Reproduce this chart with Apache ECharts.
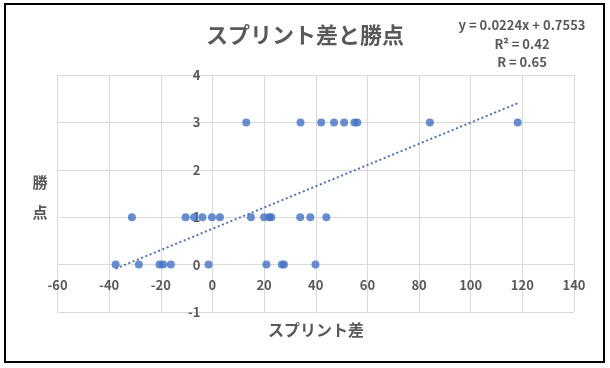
<!DOCTYPE html>
<html>
<head>
<meta charset="utf-8">
<script src="https://cdn.jsdelivr.net/npm/echarts@6/dist/echarts.min.js"></script>
<style>html,body{margin:0;padding:0;background:#fff;}#c{width:610px;height:368px;}</style>
</head>
<body>
<div id="c"></div>
<script>
// Data
var points3X = [13.1, 34.1, 42.1, 47.1, 51.0, 55.0, 56.1, 84.2, 118.2];
var points1X = [-31.2, -10.4, -7.1, -3.9, -0.2, 2.9, 14.9, 20.0, 22.0, 22.8, 34.0, 37.9, 44.1];
var points0X = [-37.5, -28.5, -20.5, -19.1, -16.1, -1.5, 20.9, 26.9, 27.7, 39.9];
var pointGroups = [3, 1, 0];
var trendSlope = 0.0224;
var trendIntercept = 0.7553;
var equationLines = ['y = 0.0224x + 0.7553', 'R² = 0.42', 'R = 0.65'];
var titleText = 'スプリント差と勝点';
var xAxisTitle = 'スプリント差';
var yAxisTitle = ['勝', '点'];

var X_MIN = -60, X_MAX = 140, Y_MIN = -1, Y_MAX = 4;

var groupsX = [points3X, points1X, points0X];
var scatterData = [];
groupsX.forEach(function (arr, i) {
  arr.forEach(function (x) { scatterData.push([x, pointGroups[i]]); });
});
var allX = scatterData.map(function (p) { return p[0]; });
var xMin = Math.min.apply(null, allX), xMax = Math.max.apply(null, allX);
var trendData = [[xMin, trendSlope * xMin + trendIntercept], [xMax, trendSlope * xMax + trendIntercept]];

var GRID = {left: 57.5, right: 36, top: 75, bottom: 56};
var W = 610, H = 368;
var gw = W - GRID.left - GRID.right, gh = H - GRID.top - GRID.bottom;
// put the axes through the origin (as in the reference)
var yAxisOffset = -gw * (0 - X_MIN) / (X_MAX - X_MIN);
var xAxisOffset = -gh * (0 - Y_MIN) / (Y_MAX - Y_MIN);

var FONT = '"Noto Sans CJK JP", "Noto Sans", sans-serif';
var GRAY = '#595959';
var chart = echarts.init(document.getElementById('c'), null, {renderer: 'canvas'});
chart.setOption({
  animation: false,
  backgroundColor: '#fff',
  title: {
    text: titleText, left: 'center', top: 19,
    textStyle: {fontFamily: FONT, fontSize: 22, fontWeight: 'bold', color: GRAY}
  },
  grid: {left: GRID.left, right: GRID.right, top: GRID.top, bottom: GRID.bottom, containLabel: false},
  xAxis: {
    type: 'value', min: X_MIN, max: X_MAX, interval: 20,
    position: 'bottom', offset: xAxisOffset,
    axisLine: {show: true, onZero: false, lineStyle: {color: '#d9d9d9'}},
    axisTick: {show: false},
    axisLabel: {margin: 14, fontFamily: FONT, fontSize: 13, fontWeight: 'bold', color: GRAY},
    splitLine: {show: true, lineStyle: {color: '#d9d9d9', width: 1}}
  },
  yAxis: {
    type: 'value', min: Y_MIN, max: Y_MAX, interval: 1,
    position: 'left', offset: yAxisOffset,
    axisLine: {show: true, onZero: false, lineStyle: {color: '#d9d9d9'}},
    axisTick: {show: false},
    axisLabel: {margin: 12, fontFamily: FONT, fontSize: 13, fontWeight: 'bold', color: GRAY},
    splitLine: {show: true, lineStyle: {color: '#d9d9d9', width: 1}}
  },
  series: [
    {
      type: 'line', data: trendData, symbol: 'none', silent: true, z: 1,
      lineStyle: {color: '#4a6fae', width: 2, type: [2, 2.6]}
    },
    {
      type: 'scatter', data: scatterData, symbolSize: 8, z: 2,
      itemStyle: {color: '#4472C4'}
    }
  ],
  graphic: [
    {type: 'rect', shape: {x: 5, y: 4, width: 599, height: 358},
     style: {fill: 'none', stroke: '#000', lineWidth: 2}, z: 100},
    {type: 'text', x: 522, y: 25, style: {text: equationLines[0], font: 'bold 13px ' + FONT, fill: GRAY, textAlign: 'center', textVerticalAlign: 'middle'}},
    {type: 'text', x: 522, y: 44, style: {text: equationLines[1], font: 'bold 13px ' + FONT, fill: GRAY, textAlign: 'center', textVerticalAlign: 'middle'}},
    {type: 'text', x: 522, y: 62, style: {text: equationLines[2], font: 'bold 13px ' + FONT, fill: GRAY, textAlign: 'center', textVerticalAlign: 'middle'}},
    {type: 'text', x: 40, y: 182, style: {text: yAxisTitle[0], font: 'bold 15px ' + FONT, fill: GRAY, textAlign: 'center', textVerticalAlign: 'middle'}},
    {type: 'text', x: 40, y: 212, style: {text: yAxisTitle[1], font: 'bold 15px ' + FONT, fill: GRAY, textAlign: 'center', textVerticalAlign: 'middle'}},
    {type: 'text', x: 316, y: 330, style: {text: xAxisTitle, font: 'bold 16px ' + FONT, fill: GRAY, textAlign: 'center', textVerticalAlign: 'middle'}}
  ]
});
</script>
</body>
</html>
